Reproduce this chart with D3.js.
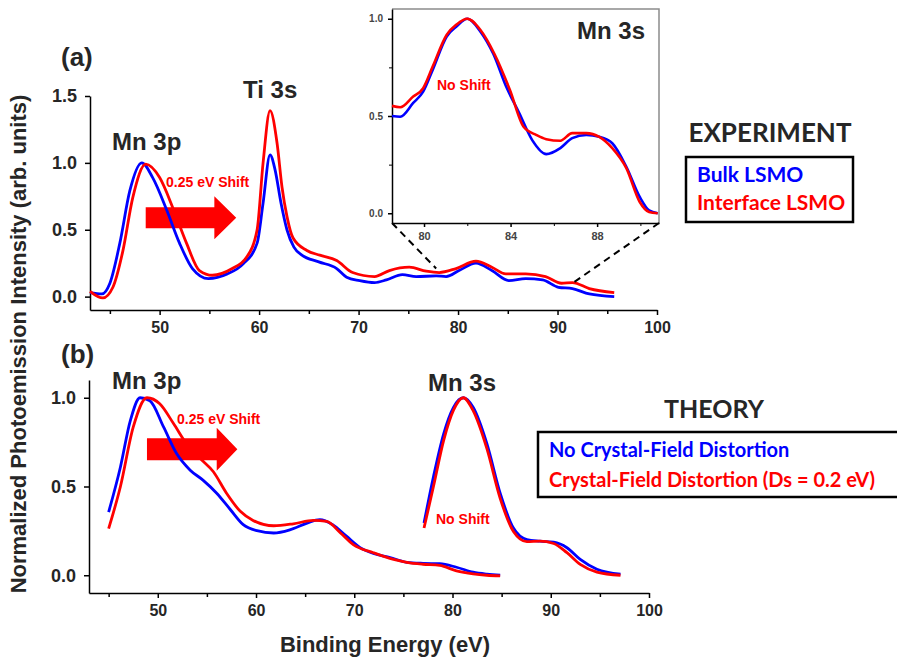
<!DOCTYPE html>
<html lang="en">
<head>
<meta charset="UTF-8" />
<title>Mn 3p / Mn 3s photoemission</title>
<script src="https://cdn.jsdelivr.net/npm/d3@7"></script>
<style>
  body { margin: 0; background: #fff; }
  svg text { font-family: "Liberation Sans", Arial, sans-serif; font-weight: bold; }
  svg text.cal { font-family: Lato, "Open Sans", sans-serif; }
</style>
</head>
<body>
<svg id="svg"></svg>
<script>
// ---- (a) experiment, full range ----
const expBulkE = [43.0, 44.2, 45.0, 46.0, 47.0, 48.2, 49.3, 50.7, 52.0, 53.3, 54.9, 56.8, 58.4, 59.8, 60.4, 61.1, 61.6, 62.2, 62.8, 63.5, 64.3, 66.0, 67.8, 68.8, 70.1, 71.6, 72.8, 74.4, 75.8, 77.8, 78.8, 80.1, 81.8, 83.4, 85.1, 86.8, 88.5, 90.1, 91.5, 93.2, 95.7];
const expBulkI = [0.03, 0.02, 0.10, 0.40, 0.79, 1.00, 0.89, 0.65, 0.40, 0.21, 0.135, 0.17, 0.245, 0.40, 0.70, 1.06, 0.95, 0.70, 0.50, 0.37, 0.31, 0.26, 0.21, 0.145, 0.12, 0.105, 0.125, 0.165, 0.15, 0.155, 0.15, 0.195, 0.25, 0.195, 0.12, 0.135, 0.125, 0.07, 0.06, 0.02, 0.0];
const expIntE = [43.0, 44.3, 45.3, 46.3, 47.3, 48.6, 50.0, 51.4, 52.7, 54.0, 55.3, 57.3, 58.7, 59.8, 60.4, 61.1, 61.8, 62.3, 62.8, 63.4, 64.8, 66.1, 67.8, 69.4, 71.6, 73.1, 75.1, 76.8, 78.1, 79.8, 81.8, 83.4, 84.8, 86.8, 88.8, 90.4, 91.5, 93.2, 95.7];
const expIntI = [0.04, -0.01, 0.07, 0.34, 0.74, 0.99, 0.89, 0.65, 0.40, 0.195, 0.16, 0.21, 0.29, 0.50, 1.00, 1.39, 1.15, 0.82, 0.60, 0.44, 0.345, 0.31, 0.27, 0.18, 0.15, 0.195, 0.22, 0.19, 0.18, 0.21, 0.265, 0.22, 0.17, 0.17, 0.15, 0.10, 0.105, 0.06, 0.03];

// ---- (a) inset, Mn 3s ----
const insBulkE = [78.52, 78.9, 79.5, 79.96, 80.4, 81.05, 81.5, 82.0, 82.6, 83.2, 83.8, 84.4, 85.0, 85.65, 86.3, 86.85, 87.5, 88.1, 88.7, 89.35, 89.97, 90.4, 90.8];
const insBulkI = [0.50, 0.496, 0.567, 0.625, 0.737, 0.909, 0.96, 1.0, 0.935, 0.82, 0.65, 0.515, 0.376, 0.304, 0.335, 0.386, 0.402, 0.393, 0.36, 0.239, 0.084, 0.015, 0.0];
const insIntE = [78.52, 78.9, 79.5, 79.96, 80.4, 81.05, 81.5, 82.0, 82.6, 83.25, 83.97, 84.6, 85.2, 85.65, 86.3, 86.85, 87.5, 88.1, 88.7, 89.35, 89.97, 90.4, 90.8];
const insIntI = [0.552, 0.545, 0.60, 0.643, 0.754, 0.918, 0.97, 1.0, 0.943, 0.82, 0.634, 0.445, 0.402, 0.381, 0.373, 0.412, 0.412, 0.393, 0.335, 0.232, 0.058, 0.007, 0.0];

// ---- (b) theory ----
const th3pNoE = [45.0, 46.2, 47.2, 48.2, 49.2, 50.6, 51.9, 53.3, 54.6, 56.0, 57.4, 58.7, 60.1, 61.8, 63.5, 65.2, 66.5, 67.8, 69.2, 70.6, 71.95, 73.65, 75.35, 77.0, 78.7, 80.4, 82.1, 83.5, 84.85];
const th3pNoI = [0.356, 0.61, 0.87, 1.0, 0.983, 0.834, 0.687, 0.592, 0.536, 0.462, 0.369, 0.285, 0.251, 0.238, 0.257, 0.294, 0.313, 0.285, 0.22, 0.156, 0.123, 0.10, 0.073, 0.067, 0.065, 0.045, 0.017, 0.006, 0.0];
const th3pDsE = [45.0, 46.2, 47.5, 48.9, 50.2, 51.6, 52.9, 54.3, 55.66, 57.0, 58.4, 59.7, 61.8, 63.8, 65.84, 67.2, 68.6, 69.9, 71.95, 74.0, 75.35, 77.0, 78.7, 80.4, 82.1, 83.5, 84.85];
const th3pDsI = [0.263, 0.50, 0.834, 1.0, 0.966, 0.855, 0.743, 0.659, 0.583, 0.462, 0.36, 0.309, 0.279, 0.29, 0.309, 0.303, 0.238, 0.173, 0.127, 0.089, 0.073, 0.062, 0.055, 0.025, 0.008, 0.0, -0.004];
const th3sE = [77.1, 78.06, 79.1, 80.1, 81.1, 82.1, 83.5, 84.85, 86.2, 87.57, 88.9, 90.3, 91.65, 93.0, 94.7, 97.1];
const th3sNoI = [0.294, 0.555, 0.797, 0.946, 1.0, 0.946, 0.741, 0.462, 0.266, 0.201, 0.192, 0.186, 0.155, 0.089, 0.034, 0.006];
const th3sDsI = [0.266, 0.50, 0.76, 0.93, 1.0, 0.927, 0.713, 0.434, 0.247, 0.19, 0.192, 0.179, 0.127, 0.061, 0.018, 0.0];

const xMajor = [50, 60, 70, 80, 90, 100];
const xMinor = [45, 55, 65, 75, 85, 95];
const legendA = ["Bulk LSMO", "Interface LSMO"];
const legendB = ["No Crystal-Field Distortion", "Crystal-Field Distortion (Ds = 0.2 eV)"];

const BLUE = "#0000ff", RED = "#ff0000", INK = "#262626";

const svg = d3.select("#svg").attr("width", 897).attr("height", 660);

const xa = d3.scaleLinear([43, 100], [90, 657]);
const ya = d3.scaleLinear([-0.1, 1.5], [310, 96]);
const xb = d3.scaleLinear([43, 100], [89, 649]);
const yb = d3.scaleLinear([-0.1, 1.1], [593, 380]);
const xi = d3.scaleLinear([78.52, 90.86], [392, 659]);
const yi = d3.scaleLinear([-0.05, 1.05], [223, 9]);

function styleAxis(g, fs) {
  g.select(".domain").attr("stroke", "#000").attr("stroke-width", 1.5);
  g.selectAll(".tick line").attr("stroke", "#000").attr("stroke-width", 1.5);
  g.selectAll(".tick text").attr("fill", INK).style("font-size", fs + "px")
    .style("font-family", '"Liberation Sans", Arial, sans-serif').style("font-weight", "bold");
}

function axes(x, y, yTicks) {
  const gx = svg.append("g").attr("transform", `translate(0,${y.range()[0]})`)
    .call(d3.axisBottom(x).tickValues(xMajor).tickSize(5).tickSizeOuter(0).tickPadding(7));
  styleAxis(gx, 16);
  const gm = svg.append("g").attr("transform", `translate(0,${y.range()[0]})`)
    .call(d3.axisBottom(x).tickValues(xMinor).tickSize(4).tickFormat(""));
  gm.select(".domain").remove();
  gm.selectAll(".tick line").attr("stroke", "#000").attr("stroke-width", 1.5);
  const gy = svg.append("g").attr("transform", `translate(${x.range()[0]},0)`)
    .call(d3.axisLeft(y).tickValues(yTicks).tickFormat(d3.format(".1f")).tickSize(5).tickSizeOuter(0).tickPadding(8));
  styleAxis(gy, 18);
}

axes(xa, ya, [0, 0.5, 1.0, 1.5]);
axes(xb, yb, [0, 0.5, 1.0]);

// arrows (drawn under the curves)
function arrow(x, y, x0, xh, x1, yc, half, head) {
  const cy = y(yc);
  const pts = [[x(x0), cy - half], [x(xh), cy - half], [x(xh), cy - head], [x(x1), cy],
               [x(xh), cy + head], [x(xh), cy + half], [x(x0), cy + half]];
  svg.append("path").attr("d", "M" + pts.join("L") + "Z").attr("fill", RED);
}
arrow(xa, ya, 48.6, 55.5, 57.7, 0.59, 10.5, 21.5);
arrow(xb, yb, 48.9, 56.0, 58.1, 0.71, 11, 21.5);

function curve(x, y, E, I, color, w) {
  svg.append("path")
    .datum(d3.zip(E, I))
    .attr("fill", "none").attr("stroke", color).attr("stroke-width", w || 2.8)
    .attr("stroke-linejoin", "round")
    .attr("d", d3.line().x(d => x(d[0])).y(d => y(d[1])).curve(d3.curveMonotoneX));
}
curve(xa, ya, expBulkE, expBulkI, BLUE);
curve(xa, ya, expIntE, expIntI, RED);
curve(xb, yb, th3pNoE, th3pNoI, BLUE);
curve(xb, yb, th3pDsE, th3pDsI, RED);
curve(xb, yb, th3sE, th3sNoI, BLUE);
curve(xb, yb, th3sE, th3sDsI, RED);

// ---- inset ----
svg.append("rect").attr("x", 392).attr("y", 9).attr("width", 267).attr("height", 214).attr("fill", "#fff");
svg.append("path").attr("d", "M392,9H659V223").attr("fill", "none").attr("stroke", "#8c8c8c").attr("stroke-width", 1.5);

// dashed zoom lines
const dash = [[[xi.range()[0], yi.range()[0]], [xa(77.8), ya(0.21)]],
              [[xi.range()[1], yi.range()[0]], [xa(91.5), ya(0.10)]]];
dash.forEach(p => svg.append("line")
  .attr("x1", p[0][0]).attr("y1", p[0][1]).attr("x2", p[1][0]).attr("y2", p[1][1])
  .attr("stroke", "#000").attr("stroke-width", 2).attr("stroke-dasharray", "7,5"));

const gix = svg.append("g").attr("transform", `translate(0,223)`)
  .call(d3.axisBottom(xi).tickValues([80, 84, 88]).tickSize(4).tickSizeOuter(0).tickPadding(5));
styleAxis(gix, 11);
gix.selectAll(".tick text").attr("fill", "#444");
const gixm = svg.append("g").attr("transform", `translate(0,223)`)
  .call(d3.axisBottom(xi).tickValues([82, 86, 90]).tickSize(3).tickFormat(""));
gixm.select(".domain").remove();
gixm.selectAll(".tick line").attr("stroke", "#000");
const giy = svg.append("g").attr("transform", `translate(392,0)`)
  .call(d3.axisLeft(yi).tickValues([0, 0.5, 1.0]).tickFormat(d3.format(".1f")).tickSize(4).tickSizeOuter(0).tickPadding(5));
styleAxis(giy, 10);
giy.selectAll(".tick text").attr("fill", "#444");
const giym = svg.append("g").attr("transform", `translate(392,0)`)
  .call(d3.axisLeft(yi).tickValues([0.25, 0.75]).tickSize(3).tickFormat(""));
giym.select(".domain").remove();
giym.selectAll(".tick line").attr("stroke", "#000");

curve(xi, yi, insBulkE, insBulkI, BLUE, 2.6);
curve(xi, yi, insIntE, insIntI, RED, 2.6);

// ---- text ----
function label(x, y, t, fs, fill, cls, anchor) {
  return svg.append("text").attr("x", x).attr("y", y).text(t)
    .attr("class", cls || null).attr("fill", fill || INK)
    .attr("text-anchor", anchor || "start").style("font-size", fs + "px");
}
label(61, 66, "(a)", 26);
label(61, 363, "(b)", 26);
label(112, 150, "Mn 3p", 24);
label(243, 98, "Ti 3s", 24);
label(577, 39, "Mn 3s", 24);
label(112, 389, "Mn 3p", 24);
label(428, 391, "Mn 3s", 24);
label(166, 187, "0.25 eV Shift", 14, RED);
label(177, 424, "0.25 eV Shift", 14, RED);
label(437, 90, "No Shift", 14, RED);
label(436, 524, "No Shift", 14, RED);

label(385, 652, "Binding Energy (eV)", 22, INK, null, "middle");
svg.append("text").attr("transform", "translate(26,344) rotate(-90)")
  .attr("text-anchor", "middle").attr("fill", INK).style("font-size", "22px")
  .text("Normalized Photoemission Intensity (arb. units)");

// legends
label(770, 142, "EXPERIMENT", 26, INK, "cal", "middle");
svg.append("rect").attr("x", 686).attr("y", 157).attr("width", 167).attr("height", 65)
  .attr("fill", "none").attr("stroke", "#000").attr("stroke-width", 2.5);
legendA.forEach((t, i) => label(697, 182 + i * 28, t, 21, i ? RED : BLUE, "cal"));

label(714, 418, "THEORY", 25, INK, "cal", "middle");
svg.append("rect").attr("x", 538).attr("y", 432).attr("width", 362).attr("height", 65)
  .attr("fill", "none").attr("stroke", "#000").attr("stroke-width", 2.5);
legendB.forEach((t, i) => label(549, 457 + i * 30, t, 20, i ? RED : BLUE, "cal"));
</script>
</body>
</html>
